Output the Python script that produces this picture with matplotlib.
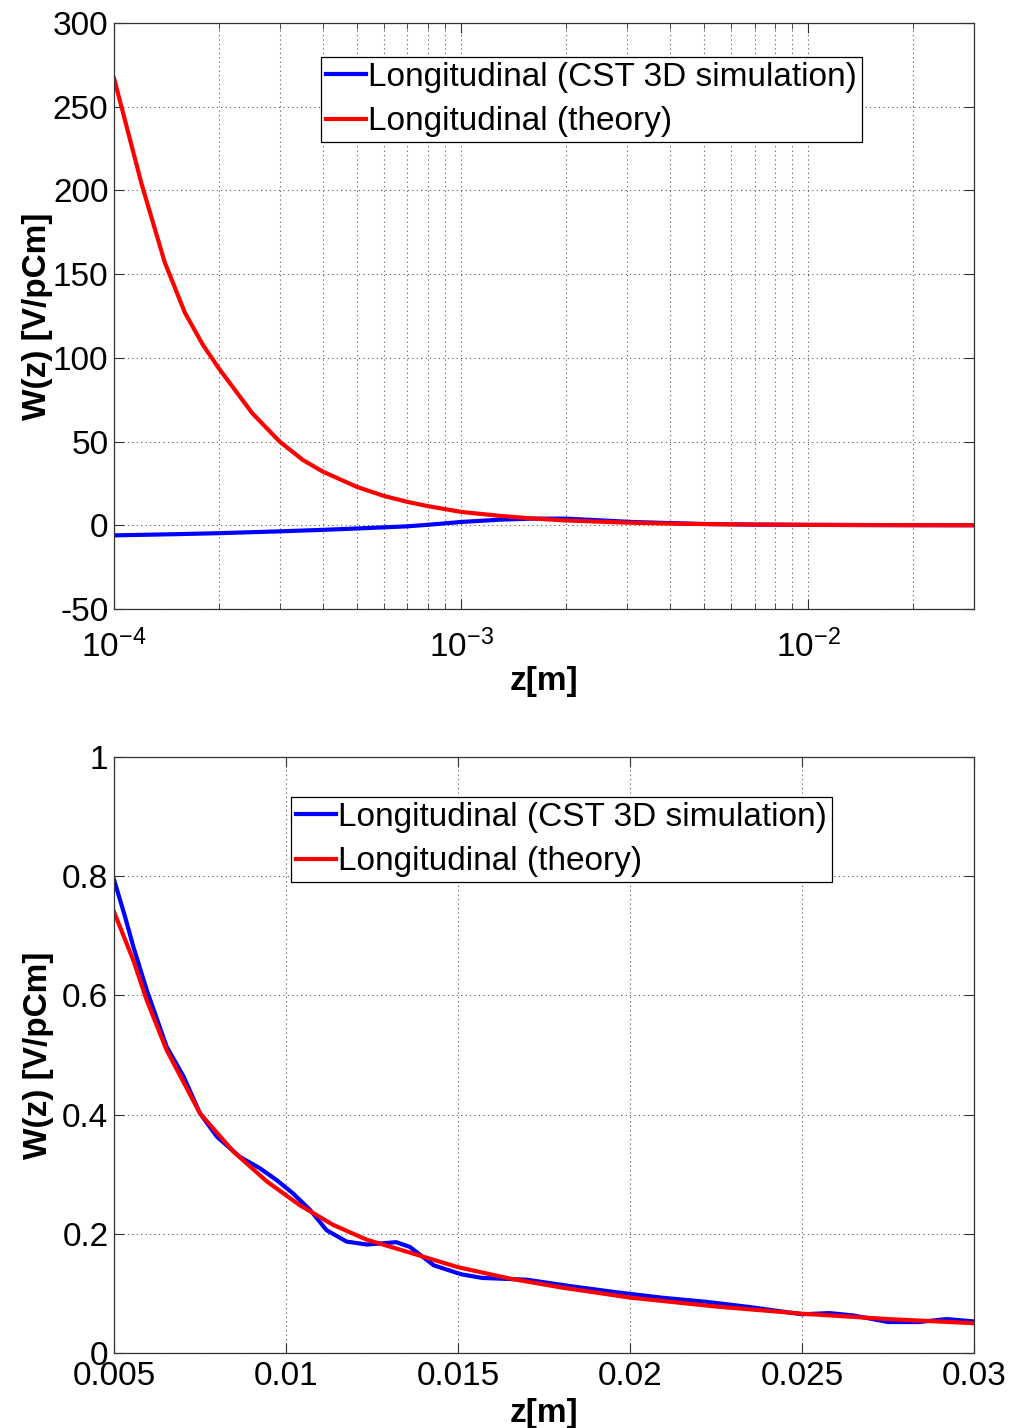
import matplotlib
matplotlib.use("Agg")
import matplotlib.pyplot as plt
from matplotlib.ticker import LogLocator, FixedLocator, NullFormatter

plt.rcParams["font.family"] = ["Liberation Sans", "DejaVu Sans"]
plt.rcParams["mathtext.fontset"] = "custom"
plt.rcParams["mathtext.rm"] = "Liberation Sans"
plt.rcParams["mathtext.it"] = "Liberation Sans"
plt.rcParams["axes.unicode_minus"] = False

# top panel, log x: wake over the full range
z_top_theory = [1e-4, 1.2e-4, 1.4e-4, 1.6e-4, 1.8e-4, 2e-4, 2.5e-4, 3e-4, 3.5e-4,
                4e-4, 5e-4, 6e-4, 7e-4, 8e-4, 1e-3, 1.3e-3, 1.6e-3, 2e-3, 3e-3,
                4e-3, 5e-3, 7e-3, 1e-2, 1.5e-2, 2e-2, 3e-2]
w_top_theory = [267, 204, 157, 127, 108, 94, 67, 50, 39,
                32, 23, 17.5, 14, 11.5, 8.0, 5.6, 4.1, 2.9, 1.6,
                1.0, 0.74, 0.45, 0.26, 0.14, 0.092, 0.05]

z_top_sim = [1e-4, 1.5e-4, 2e-4, 3e-4, 4e-4, 5e-4, 6e-4, 7e-4, 8e-4, 1e-3,
             1.3e-3, 1.6e-3, 2e-3, 2.5e-3, 3.1e-3, 3.9e-3, 5e-3, 7e-3, 1e-2,
             2e-2, 3e-2]
w_top_sim = [-6.0, -5.3, -4.7, -3.6, -2.7, -1.9, -1.2, -0.6, 0.3, 2.0,
             3.4, 4.0, 4.0, 3.0, 2.0, 1.4, 0.8, 0.45, 0.27,
             0.09, 0.05]

# bottom panel, linear x: zoom on the tail
z_bot_theory = [0.005, 0.00556, 0.00595, 0.00653, 0.0075, 0.00847, 0.00944,
                0.0104, 0.01137, 0.01235, 0.01311, 0.015, 0.0165, 0.018,
                0.02, 0.0225, 0.025, 0.0275, 0.03]
w_bot_theory = [0.740, 0.659, 0.592, 0.508, 0.402, 0.338, 0.288,
                0.248, 0.215, 0.190, 0.177, 0.144, 0.125, 0.110,
                0.093, 0.078, 0.066, 0.057, 0.050]

z_bot_sim = [0.005, 0.00532, 0.00556, 0.00595, 0.00653, 0.00702, 0.0075,
             0.00799, 0.00866, 0.00924, 0.00973, 0.0102, 0.0107, 0.01118,
             0.01176, 0.01235, 0.0128, 0.0132, 0.0136, 0.0143, 0.0151,
             0.0157, 0.0170, 0.0183, 0.0196, 0.0209, 0.0222, 0.0235,
             0.025, 0.0258, 0.0265, 0.0275, 0.0284, 0.0292, 0.03]
w_bot_sim = [0.794, 0.732, 0.682, 0.609, 0.514, 0.464, 0.402,
             0.363, 0.329, 0.310, 0.290, 0.268, 0.240, 0.206,
             0.187, 0.182, 0.184, 0.186, 0.178, 0.147, 0.132,
             0.126, 0.123, 0.112, 0.102, 0.093, 0.086, 0.077,
             0.065, 0.067, 0.063, 0.052, 0.052, 0.057, 0.053]

labels = ["Longitudinal (CST 3D simulation)", "Longitudinal (theory)"]
FS = 24
LW = 3.0
grid_kw = dict(color="#555555", linestyle=(0, (1, 3)), linewidth=0.8)


def style_axes(ax):
    for s in ax.spines.values():
        s.set_color("#333333")
        s.set_linewidth(0.9)
    ax.tick_params(which="both", direction="in", top=True, right=True,
                   labelsize=FS, colors="#333333", labelcolor="black", pad=4)
    ax.tick_params(which="major", length=7)
    ax.tick_params(which="minor", length=4)
    ax.set_axisbelow(True)


fig = plt.figure(figsize=(10.11, 14.28), dpi=100)
ax1 = fig.add_axes([0.1128, 0.5735, 0.8506, 0.4104])
ax2 = fig.add_axes([0.1128, 0.0525, 0.8506, 0.4174])

# top
ax1.plot(z_top_sim, w_top_sim, color="blue", lw=LW, label=labels[0])
ax1.plot(z_top_theory, w_top_theory, color="red", lw=LW, label=labels[1])
ax1.set_xscale("log")
ax1.set_xlim(1e-4, 3e-2)
ax1.set_ylim(-50, 300)
ax1.set_yticks(range(-50, 301, 50))
ax1.xaxis.set_major_locator(LogLocator(base=10, numticks=10))
ax1.xaxis.set_minor_locator(LogLocator(base=10, subs=range(2, 10), numticks=20))
ax1.xaxis.set_minor_formatter(NullFormatter())
ax1.grid(True, which="both", axis="x", **grid_kw)
ax1.grid(True, which="major", axis="y", **grid_kw)
style_axes(ax1)
ax1.tick_params(axis="x", which="major", pad=15)
ax1.set_xlabel("z[m]", fontsize=FS, fontweight="bold", labelpad=1)
ax1.set_ylabel("W(z) [V/pCm]", fontsize=FS, fontweight="bold", labelpad=0)

# bottom
ax2.plot(z_bot_sim, w_bot_sim, color="blue", lw=LW, label=labels[0])
ax2.plot(z_bot_theory, w_bot_theory, color="red", lw=LW, label=labels[1])
ax2.set_xlim(0.005, 0.03)
ax2.set_ylim(0, 1)
ax2.xaxis.set_major_locator(FixedLocator([0.005, 0.01, 0.015, 0.02, 0.025, 0.03]))
ax2.set_xticklabels(["0.005", "0.01", "0.015", "0.02", "0.025", "0.03"])
ax2.set_yticks([0, 0.2, 0.4, 0.6, 0.8, 1])
ax2.set_yticklabels(["0", "0.2", "0.4", "0.6", "0.8", "1"])
ax2.grid(True, which="major", **grid_kw)
style_axes(ax2)
ax2.tick_params(axis="x", which="major", pad=6)
ax2.set_xlabel("z[m]", fontsize=FS, fontweight="bold", labelpad=4)
ax2.set_ylabel("W(z) [V/pCm]", fontsize=FS, fontweight="bold", labelpad=6)

leg_kw = dict(loc="upper left", fontsize=FS, frameon=True, fancybox=False,
              framealpha=1, edgecolor="black", handlelength=1.2,
              handletextpad=0.05, borderpad=0.15, labelspacing=0.4,
              borderaxespad=0)
l1 = ax1.legend(bbox_to_anchor=(0.241, 0.942), **leg_kw)
l2 = ax2.legend(bbox_to_anchor=(0.206, 0.933), **leg_kw)
for lg in (l1, l2):
    lg.get_frame().set_linewidth(0.9)

fig.savefig("out.png", dpi=100)
